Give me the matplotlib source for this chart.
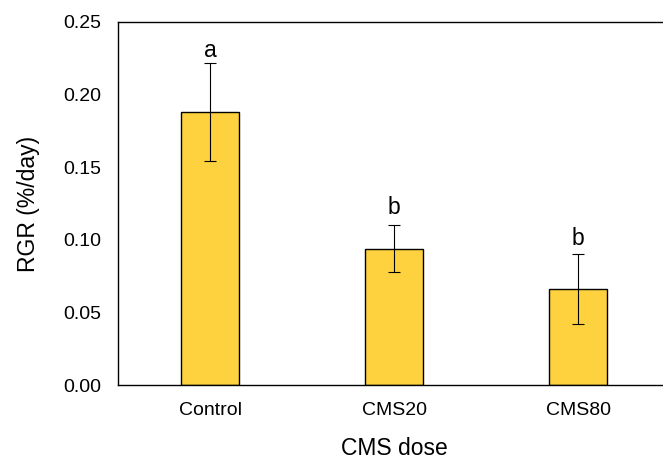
import numpy as np
import matplotlib.pyplot as plt

plt.rcParams['font.family'] = ['Liberation Sans', 'DejaVu Sans']

# RGR per treatment, with error bars and significance letters
doses = ["Control", "CMS20", "CMS80"]
rgr = [0.188, 0.094, 0.066]
rgr_err = [0.034, 0.0165, 0.024]
letters = ["a", "b", "b"]

fig = plt.figure(figsize=(6.63, 4.62), dpi=100)
ax = fig.add_axes([118 / 663, 1 - 385 / 462, (670.5 - 118) / 663, (385 - 22) / 462])

x = np.arange(len(doses))
ax.bar(x, rgr, width=0.315, color="#FDD23E", edgecolor="black", linewidth=1.0,
       yerr=rgr_err, error_kw=dict(ecolor="black", elinewidth=0.8, capsize=4, capthick=0.8))

# letters sit a little above the error caps
gaps = [0.004, 0.0075, 0.0067]
for xi, v, e, t, g in zip(x, rgr, rgr_err, letters, gaps):
    ax.text(xi, v + e + g, t, ha="center", va="baseline", fontsize=16.5)

ax.set_xlim(-0.5, 2.5)
ax.set_ylim(0, 0.25)
ax.set_yticks(np.arange(0, 0.26, 0.05))
ax.set_yticklabels(["%.2f" % v for v in np.arange(0, 0.26, 0.05)])
ax.set_xticks(x)
ax.set_xticklabels(doses)
ax.tick_params(axis="both", length=0, labelsize=14)
ax.tick_params(axis="x", pad=12)
ax.tick_params(axis="y", pad=12)
ax.spines["right"].set_visible(False)
for s in ["left", "top", "bottom"]:
    ax.spines[s].set_linewidth(1.0)

ax.set_xlabel("CMS dose", fontsize=16.5, labelpad=13)
ax.set_ylabel("RGR (%/day)", fontsize=16.5, labelpad=17)

fig.savefig("out.png", dpi=100)
